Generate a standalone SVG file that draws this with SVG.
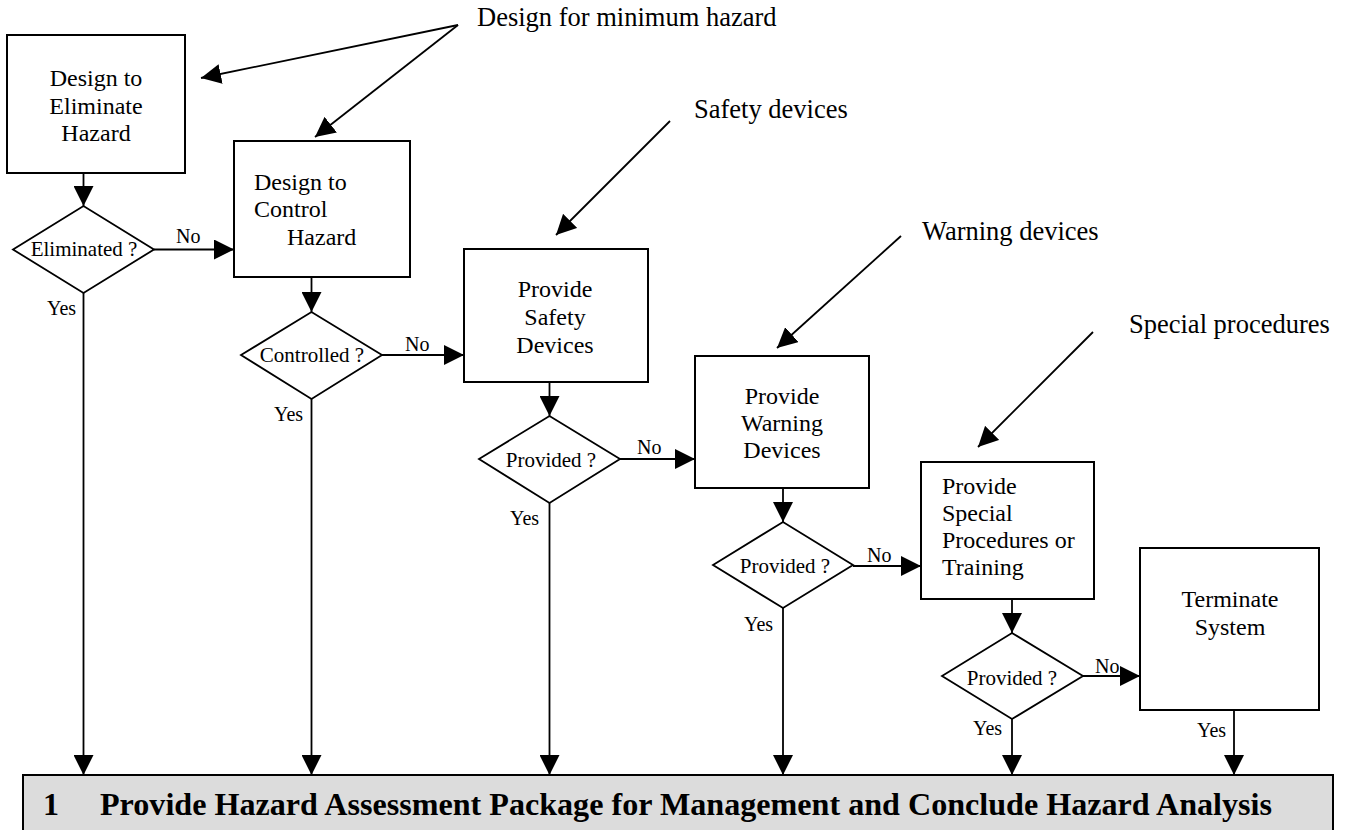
<svg xmlns="http://www.w3.org/2000/svg" width="1350" height="830" viewBox="0 0 1350 830">
<defs>
<marker id="ah" markerUnits="userSpaceOnUse" markerWidth="20" markerHeight="20" refX="20" refY="10" orient="auto" viewBox="0 0 20 20">
<path d="M0,0 L20,10 L0,20 z" fill="#000"/>
</marker>
<style>
text{font-family:"Liberation Serif","Times New Roman",serif;fill:#000}
.box{fill:#fff;stroke:#000;stroke-width:2}
.dia{fill:#fff;stroke:#000;stroke-width:1.8}
.c{fill:none;stroke:#000;stroke-width:1.8}
.a{fill:none;stroke:#000;stroke-width:1.8;marker-end:url(#ah)}
.bt{font-size:24px}
.dt{font-size:21px;text-anchor:middle}
.lt{font-size:20px}
.lab{font-size:26.5px}
.mid{text-anchor:middle}
.bar{fill:#dcdcdc;stroke:#000;stroke-width:2}
.bart{font-size:32px;font-weight:bold}
</style>
</defs>
<rect width="1350" height="830" fill="#fff"/>

<g id="connectors">
<line class="a" x1="83.5" y1="173" x2="83.5" y2="206"/>
<line class="a" x1="154" y1="249.5" x2="234" y2="249.5"/>
<line class="a" x1="311.5" y1="277" x2="311.5" y2="312"/>
<line class="a" x1="382" y1="355" x2="464" y2="355"/>
<line class="a" x1="549.5" y1="382" x2="549.5" y2="416"/>
<line class="a" x1="620" y1="459" x2="695" y2="459"/>
<line class="a" x1="783" y1="488" x2="783" y2="522"/>
<line class="a" x1="853" y1="566" x2="921" y2="566"/>
<line class="a" x1="1012" y1="599" x2="1012" y2="633"/>
<line class="a" x1="1083" y1="676" x2="1140" y2="676"/>
<line class="a" x1="83.5" y1="293" x2="83.5" y2="775"/>
<line class="a" x1="311.5" y1="399" x2="311.5" y2="775"/>
<line class="a" x1="549.5" y1="503" x2="549.5" y2="775"/>
<line class="a" x1="783" y1="608" x2="783" y2="775"/>
<line class="a" x1="1012" y1="719" x2="1012" y2="775"/>
<line class="a" x1="1234" y1="710" x2="1234" y2="775"/>
<line class="a" x1="458" y1="25" x2="201" y2="78"/>
<line class="a" x1="458" y1="25" x2="315" y2="137"/>
<line class="a" x1="670" y1="121" x2="556" y2="235"/>
<line class="a" x1="901" y1="236" x2="777" y2="348"/>
<line class="a" x1="1093" y1="332" x2="978" y2="447"/>
<text class="lt" x="176" y="243">No</text>
<text class="lt" x="405" y="351">No</text>
<text class="lt" x="637" y="454">No</text>
<text class="lt" x="867" y="562">No</text>
<text class="lt" x="1095" y="673">No</text>
<text class="lt" x="47" y="315">Yes</text>
<text class="lt" x="274" y="421">Yes</text>
<text class="lt" x="510" y="525">Yes</text>
<text class="lt" x="744" y="631">Yes</text>
<text class="lt" x="973" y="735">Yes</text>
<text class="lt" x="1197" y="737">Yes</text>
</g>

<g id="labels">
<text class="lab" x="477" y="26">Design for minimum hazard</text>
<text class="lab" x="694" y="118">Safety devices</text>
<text class="lab" x="922" y="240">Warning devices</text>
<text class="lab" x="1129" y="333">Special procedures</text>
</g>

<g id="n-eliminate">
<rect class="box" x="7" y="35" width="178" height="138"/>
<text class="bt mid" x="96" y="86">Design to</text>
<text class="bt mid" x="96" y="114">Eliminate</text>
<text class="bt mid" x="96" y="141">Hazard</text>
</g>
<g id="d-eliminated">
<polygon class="dia" points="13,249.5 83.5,206 154,249.5 83.5,293"/>
<text class="dt" x="84" y="256">Eliminated ?</text>
</g>

<g id="n-control">
<rect class="box" x="234" y="141" width="176" height="136"/>
<text class="bt" x="254" y="190">Design to</text>
<text class="bt" x="254" y="217">Control</text>
<text class="bt" x="287" y="245">Hazard</text>
</g>
<g id="d-controlled">
<polygon class="dia" points="241,355 311.5,312 382,355 311.5,399"/>
<text class="dt" x="312" y="362">Controlled ?</text>
</g>

<g id="n-safety">
<rect class="box" x="464" y="249" width="184" height="133"/>
<text class="bt mid" x="555" y="297">Provide</text>
<text class="bt mid" x="555" y="325">Safety</text>
<text class="bt mid" x="555" y="353">Devices</text>
</g>
<g id="d-provided1">
<polygon class="dia" points="479,459 549.5,416 620,459 549.5,503"/>
<text class="dt" x="551" y="467">Provided ?</text>
</g>

<g id="n-warning">
<rect class="box" x="695" y="356" width="174" height="132"/>
<text class="bt mid" x="782" y="404">Provide</text>
<text class="bt mid" x="782" y="431">Warning</text>
<text class="bt mid" x="782" y="458">Devices</text>
</g>
<g id="d-provided2">
<polygon class="dia" points="713,565 783,522 853,565 783,608"/>
<text class="dt" x="785" y="573">Provided ?</text>
</g>

<g id="n-special">
<rect class="box" x="921" y="462" width="173" height="137"/>
<text class="bt" x="942" y="494">Provide</text>
<text class="bt" x="942" y="521">Special</text>
<text class="bt" x="942" y="548">Procedures or</text>
<text class="bt" x="942" y="575">Training</text>
</g>
<g id="d-provided3">
<polygon class="dia" points="942,676 1012,633 1083,676 1012,719"/>
<text class="dt" x="1012" y="685">Provided ?</text>
</g>

<g id="n-terminate">
<rect class="box" x="1140" y="548" width="179" height="162"/>
<text class="bt mid" x="1230" y="607">Terminate</text>
<text class="bt mid" x="1230" y="635">System</text>
</g>

<g id="n-package">
<rect class="bar" x="23" y="775" width="1310" height="70"/>
<text class="bart" x="43" y="815">1</text>
<text class="bart" x="100" y="815" textLength="1172" lengthAdjust="spacingAndGlyphs">Provide Hazard Assessment Package for Management and Conclude Hazard Analysis</text>
</g>
</svg>
